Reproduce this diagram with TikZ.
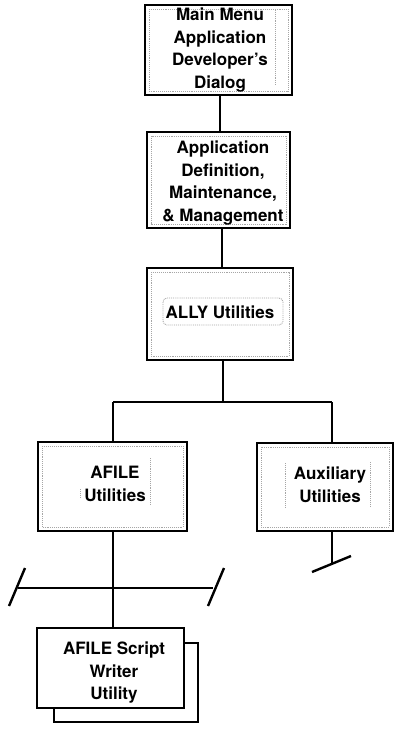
\documentclass[tikz,border=0pt]{standalone}
\usepackage{fontspec}
\setmainfont{TeX Gyre Heros}
\begin{document}
\begin{tikzpicture}[x=1pt,y=1pt,
  box/.style={draw=black,line width=2.6pt,fill=white,inner sep=0pt,outer sep=0pt},
  inner/.style={draw=gray!70,densely dotted,line width=0.9pt},
  conn/.style={draw=black,line width=2pt},
  lbl/.style={align=center,font=\fontsize{17}{22.5}\selectfont\bfseries,inner sep=0pt}
]
\useasboundingbox (0,0) rectangle (395,-732);
% boxes
\node[box,minimum width=147pt,minimum height=90pt] (b1) at (218.5,-50) {};
\node[box,minimum width=143pt,minimum height=96pt] (b2) at (218.5,-180) {};
\node[box,minimum width=146pt,minimum height=92pt] (b3) at (220,-314) {};
\node[box,minimum width=149pt,minimum height=89pt] (af) at (112.5,-486.5) {};
\node[box,minimum width=136pt,minimum height=88pt] (ax) at (325,-487) {};
\node[box,minimum width=144pt,minimum height=79pt] (sh) at (126,-682.5) {};
\node[box,minimum width=147pt,minimum height=80pt] (b4) at (110.5,-668) {};
% inner dotted borders
\draw[inner] ([shift={(4pt,-4pt)}]b1.north west) rectangle ([shift={(-4pt,4pt)}]b1.south east);
\draw[inner] (275,-10) -- (275,-85);
\draw[inner] ([shift={(4pt,-4pt)}]b2.north west) rectangle ([shift={(-4pt,4pt)}]b2.south east);
\draw[inner] ([shift={(4pt,-4pt)}]b3.north west) rectangle ([shift={(-4pt,4pt)}]b3.south east);
\draw[inner,rounded corners=4pt] (163,-298) rectangle (283,-325);
\draw[inner] ([shift={(4pt,-4pt)}]af.north west) rectangle ([shift={(-4pt,4pt)}]af.south east);
\draw[inner] (150,-458) -- (150,-505);
\draw[inner] (80,-489) -- (80,-498);
\draw[inner] ([shift={(4pt,-4pt)}]ax.north west) rectangle ([shift={(-4pt,4pt)}]ax.south east);
\draw[inner] (285,-463) -- (285,-508);
\draw[inner] (370,-462) -- (370,-507);
% labels
\node[lbl] (t1) at (220,-50) {Main Menu\\Application\\Developer's\\Dialog};
\node[lbl] (t2) at (223,-183) {Application\\Definition,\\Maintenance,\\\& Management};
\node[lbl] (t3) at (220,-312) {ALLY Utilities};
\node[lbl] (taf) at (115,-484) {AFILE\\Utilities};
\node[lbl] (tax) at (330,-485) {Auxiliary\\Utilities};
\node[lbl] (t4) at (114,-673) {AFILE Script\\Writer\\Utility};
% connectors
\coordinate (j) at (223,-402);
\coordinate (jl) at (113,-402);
\coordinate (jr) at (332,-402);
\draw[conn] (b1.south -| 220,0) -- (b2.north -| 220,0);
\draw[conn] (b2.south -| 222,0) -- (b3.north -| 222,0);
\draw[conn] (b3.south -| j) -- (j);
\draw[conn] (jl) -- (jr);
\draw[conn] (jl) -- (jl |- af.north);
\draw[conn] (jr) -- (jr |- ax.north);
\draw[conn] (af.south -| jl) -- (jl |- b4.north);
% crossbar on AFILE line
\coordinate (cl) at (18,-588);
\coordinate (cr) at (213,-588);
\draw[conn,line width=1.6pt] (cl) -- (cr);
\coordinate (sl1) at (9,-606);
\coordinate (sl2) at (25,-568);
\coordinate (sr1) at (208,-606);
\coordinate (sr2) at (224,-568);
\draw[conn,line width=2.4pt] (sl1) -- (sl2);
\draw[conn,line width=2.4pt] (sr1) -- (sr2);
% auxiliary stub
\coordinate (ast) at (332,-563);
\draw[conn] (jr |- ax.south) -- (ast);
\coordinate (as1) at (312,-572);
\coordinate (as2) at (351,-556);
\draw[conn,line width=2.4pt] (as1) -- (as2);
\end{tikzpicture}
\end{document}
